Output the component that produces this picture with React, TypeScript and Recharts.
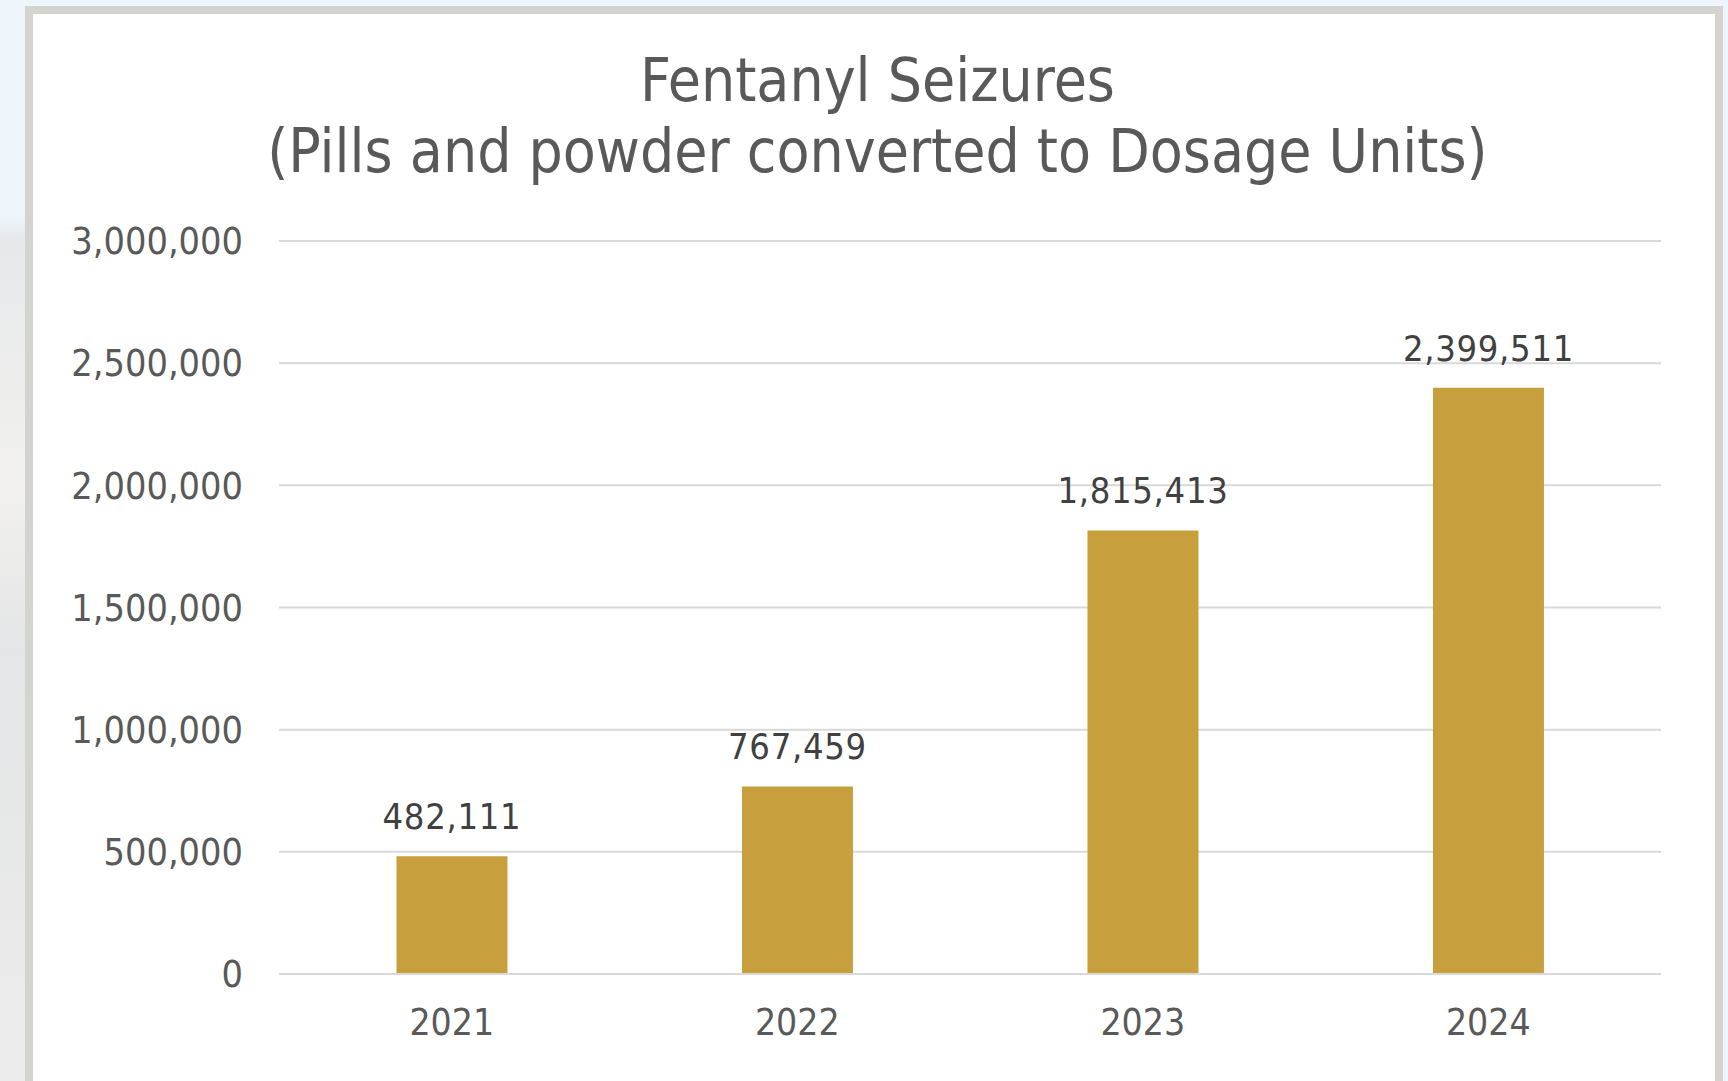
import React from 'react';
import { BarChart, Bar, XAxis, YAxis, CartesianGrid, LabelList } from 'recharts';

// values
const years = ['2021', '2022', '2023', '2024'];
const dosageUnits = [482111, 767459, 1815413, 2399511];
const yTicks = [0, 500000, 1000000, 1500000, 2000000, 2500000, 3000000];

const data = years.map((year, i) => ({ year, units: dosageUnits[i] }));

const FONT = "'DejaVu Sans Condensed', 'DejaVu Sans', sans-serif";
const fmt = (v: number) => Number(v).toLocaleString('en-US');

export default function App() {
  return (
    <div style={{
      position: 'absolute', left: 0, top: 0, width: 1728, height: 1081, overflow: 'hidden',
      background: 'linear-gradient(180deg, #eef6fc 0%, #eef6fc 20%, #e6e8ea 22%, #f2f1ee 45%, #e4e5e6 60%, #ececec 100%)',
      fontFamily: FONT,
    }}>
      {/* light strip at the top/right like the slide background */}
      <div style={{ position: 'absolute', left: 25, top: 0, width: 1703, height: 6, background: '#eef6fc' }} />
      <div style={{ position: 'absolute', left: 1723, top: 0, width: 5, height: 1081, background: '#eef6fc' }} />

      {/* card */}
      <div style={{
        position: 'absolute', left: 25, top: 6, width: 1698, height: 1100,
        boxSizing: 'border-box', border: '8px solid #d3d3cf', background: '#ffffff',
      }} />

      {/* title */}
      <div style={{
        position: 'absolute', left: 0, top: 45, width: 1755, textAlign: 'center',
        color: '#595959', fontSize: 60, lineHeight: '71px', fontFamily: FONT,
      }}>
        Fentanyl Seizures<br />(Pills and powder converted to Dosage Units)
      </div>

      <div style={{ position: 'absolute', left: 0, top: 0 }}>
        <BarChart
          width={1728}
          height={1081}
          data={data}
          margin={{ top: 241, right: 67, bottom: 77, left: 0 }}
          barCategoryGap="34%"
        >
          <CartesianGrid vertical={false} stroke="#d9d9d9" strokeWidth={2} />
          <XAxis
            dataKey="year"
            height={30}
            axisLine={{ stroke: '#d9d9d9', strokeWidth: 2 }}
            tickLine={false}
            tickMargin={29}
            tick={{ fill: '#595959', fontSize: 37, fontFamily: FONT }}
          />
          <YAxis
            width={279}
            domain={[0, 3000000]}
            ticks={yTicks}
            axisLine={false}
            tickLine={false}
            tickMargin={30}
            tickFormatter={fmt}
            tick={{ fill: '#595959', fontSize: 37.5, fontFamily: FONT }}
          />
          <Bar dataKey="units" fill="#c79f3d" isAnimationActive={false}>
            <LabelList
              dataKey="units"
              position="top"
              offset={27}
              formatter={(v: any) => fmt(v)}
              style={{ fill: '#404040', fontSize: 36, letterSpacing: 0.7, fontFamily: FONT }}
            />
          </Bar>
        </BarChart>
      </div>
    </div>
  );
}
